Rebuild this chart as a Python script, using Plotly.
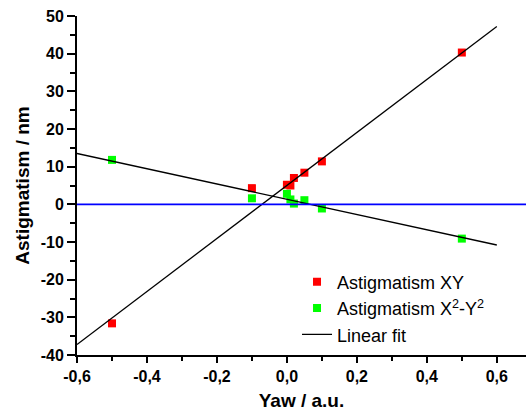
import plotly.graph_objects as go

# Data
yaw = [-0.5, -0.1, 0.0, 0.01, 0.02, 0.05, 0.1, 0.5]
astig_xy = [-31.6, 4.3, 5.2, 5.0, 7.0, 8.4, 11.4, 40.3]
astig_x2y2 = [11.8, 1.6, 2.8, 1.3, 0.2, 1.1, -1.1, -9.1]

fit_x = [-0.6, 0.6]
fit_xy = [-37.2, 47.2]
fit_x2y2 = [13.5, -10.8]

x_tickvals = [-0.6, -0.4, -0.2, 0.0, 0.2, 0.4, 0.6]
x_ticktext = ["-0,6", "-0,4", "-0,2", "0,0", "0,2", "0,4", "0,6"]
y_tickvals = [-40, -30, -20, -10, 0, 10, 20, 30, 40, 50]
y_ticktext = ["-40", "-30", "-20", "-10", "0", "10", "20", "30", "40", "50"]

FONT = "Liberation Sans, Arial, sans-serif"

fig = go.Figure()
fig.add_trace(go.Scatter(
    x=yaw, y=astig_xy, mode="markers", name="Astigmatism XY",
    marker=dict(symbol="square", size=8, color="#ff0000", line=dict(width=0)),
))
fig.add_trace(go.Scatter(
    x=yaw, y=astig_x2y2, mode="markers", name="Astigmatism X<sup>2</sup>-Y<sup>2</sup>",
    marker=dict(symbol="square", size=8, color="#00ff00", line=dict(width=0)),
))
fig.add_trace(go.Scatter(
    x=fit_x, y=fit_xy, mode="lines", name="Linear fit",
    line=dict(color="black", width=1.3),
))
fig.add_trace(go.Scatter(
    x=fit_x, y=fit_x2y2, mode="lines", name="Linear fit", showlegend=False,
    line=dict(color="black", width=1.3),
))

fig.add_shape(type="line", xref="paper", yref="y", x0=0, x1=1, y0=0, y1=0,
              line=dict(color="#0000ff", width=1.6), layer="above")

fig.update_layout(
    width=526, height=414,
    margin=dict(l=77, r=0, t=16, b=59),
    plot_bgcolor="white", paper_bgcolor="white",
    font=dict(family=FONT, color="black"),
    showlegend=True,
    legend=dict(
        x=0.49, y=0.27, xanchor="left", yanchor="top",
        bgcolor="rgba(0,0,0,0)", borderwidth=0,
        font=dict(family=FONT, size=18, color="black"),
        tracegroupgap=0,
    ),
)

fig.update_xaxes(
    range=[-0.6, 0.6834],
    showgrid=False, zeroline=False,
    showline=True, linecolor="black", linewidth=2,
    ticks="outside", ticklen=6, tickwidth=2, tickcolor="black",
    tickvals=x_tickvals, ticktext=x_ticktext,
    tickfont=dict(family=FONT, size=16, color="black", weight="bold"),
    minor=dict(ticks="outside", dtick=0.1, tick0=0, ticklen=4, tickwidth=2, tickcolor="black"),
    title=dict(text="Yaw / a.u.", font=dict(family=FONT, size=19, color="black", weight="bold"),
               standoff=9),
)
fig.update_yaxes(
    range=[-40, 50],
    showgrid=False, zeroline=False,
    showline=True, linecolor="black", linewidth=2,
    ticks="outside", ticklen=8, tickwidth=2, tickcolor="black",
    tickvals=y_tickvals, ticktext=y_ticktext,
    tickfont=dict(family=FONT, size=16, color="black", weight="bold"),
    minor=dict(ticks="outside", dtick=5, tick0=0, ticklen=5, tickwidth=2, tickcolor="black"),
    title=dict(text="Astigmatism / nm", font=dict(family=FONT, size=19, color="black", weight="bold"),
               standoff=6),
)

fig.write_html("out.html")
